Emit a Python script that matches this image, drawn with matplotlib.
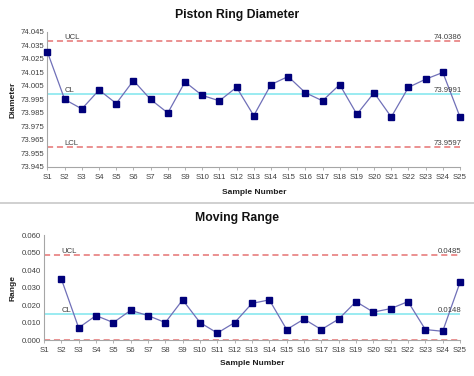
import matplotlib
matplotlib.use("Agg")
import matplotlib.pyplot as plt
import numpy as np

samples = [f"S{i}" for i in range(1, 26)]
diameter = [74.030, 73.995, 73.988, 74.002, 73.992, 74.009, 73.995, 73.985,
            74.008, 73.998, 73.994, 74.004, 73.983, 74.006, 74.012, 74.000,
            73.994, 74.006, 73.984, 74.000, 73.982, 74.004, 74.010, 74.015,
            73.982]
# moving range, first sample has none
mrange = [np.nan] + [abs(diameter[i] - diameter[i - 1]) for i in range(1, len(diameter))]

x_limits = {"UCL": 74.0386, "CL": 73.9991, "LCL": 73.9597}
mr_limits = {"UCL": 0.0485, "CL": 0.0148, "LCL": 0.0}

x_ticks = [73.945, 73.955, 73.965, 73.975, 73.985, 73.995, 74.005, 74.015,
           74.025, 74.035, 74.045]
mr_ticks = [0.000, 0.010, 0.020, 0.030, 0.040, 0.050, 0.060]

plt.rcParams['font.family'] = ['Liberation Sans', 'DejaVu Sans']

LINE_C = "#7070b8"
MARK_C = "#00007a"
LIM_C = "#e57373"
CL_C = "#7fe6ee"
TXT_C = "#404040"
AX_C = "#a6a6a6"


def draw_panel(ax, values, limits, ticks, ylabel, show_lcl_label):
    xs = np.arange(len(samples))
    ax.axhline(limits["UCL"], color=LIM_C, ls=(0, (4, 2.5)), lw=1.1, zorder=1)
    ax.axhline(limits["LCL"], color=LIM_C, ls=(0, (4, 2.5)), lw=1.1, zorder=1)
    ax.axhline(limits["CL"], color=CL_C, lw=1.1, zorder=1)
    ax.plot(xs, values, color=LINE_C, lw=0.9, marker="s", ms=4.0,
            mfc=MARK_C, mec=MARK_C, zorder=3, clip_on=False)
    ax.set_xlim(0, len(samples) - 1)
    ax.set_ylim(ticks[0], ticks[-1])
    ax.set_yticks(ticks)
    ax.set_yticklabels([f"{t:.3f}" for t in ticks])
    ax.set_xticks(xs)
    ax.set_xticklabels(samples)
    ax.tick_params(axis="both", labelsize=5.6, colors=TXT_C, length=2.5,
                   width=0.6, pad=2.5)
    ax.tick_params(axis="y", length=0)
    ax.tick_params(axis="x", color=AX_C)
    for s in ["top", "right"]:
        ax.spines[s].set_visible(False)
    for s in ["left", "bottom"]:
        ax.spines[s].set_color(AX_C)
        ax.spines[s].set_linewidth(0.8)
    ax.set_ylabel(ylabel, fontsize=6, fontweight="bold", color="#202020")
    ax.set_xlabel("Sample Number", fontsize=6, fontweight="bold", color="#202020")
    # limit labels
    names = ["UCL", "CL"] + (["LCL"] if show_lcl_label else [])
    for name in names:
        ax.text(1.0, limits[name], name, fontsize=5.6, color=TXT_C,
                ha="left", va="bottom")
        val = limits[name]
        ax.text(len(samples) - 0.9, val, f"{val:g}" if val > 1 else f"{val:.4f}",
                fontsize=5.6, color=TXT_C, ha="right", va="bottom")


fig = plt.figure(figsize=(4.74, 3.76), dpi=100)
ax1 = fig.add_axes([0.1002, 0.556, 0.8703, 0.359])
ax2 = fig.add_axes([0.0928, 0.0957, 0.8777, 0.2785])

draw_panel(ax1, diameter, x_limits, x_ticks, "Diameter", True)
draw_panel(ax2, mrange, mr_limits, mr_ticks, "Range", False)
ax1.yaxis.set_label_coords(-0.074, 0.5)
ax2.yaxis.set_label_coords(-0.065, 0.5)
ax1.xaxis.set_label_coords(0.5, -0.16)
ax2.xaxis.set_label_coords(0.5, -0.19)

fig.text(0.5, 0.96, "Piston Ring Diameter", ha="center", va="center",
         fontsize=8.8, fontweight="bold", color="#111111")
fig.text(0.5, 0.42, "Moving Range", ha="center", va="center",
         fontsize=8.8, fontweight="bold", color="#111111")
fig.add_artist(plt.Line2D([0, 1], [0.46, 0.46], color="#c8c8c8", lw=1.2))

fig.savefig("out.png", dpi=100)
